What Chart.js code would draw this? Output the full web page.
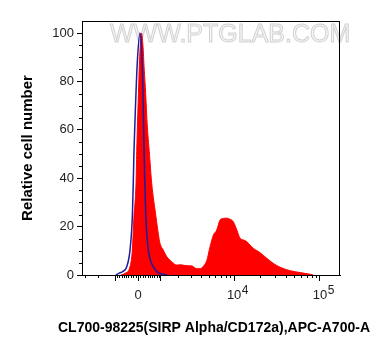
<!DOCTYPE html>
<html><head><meta charset="utf-8">
<style>html,body{margin:0;padding:0;background:#fff}#wrap{width:389px;height:356px;position:relative}</style>
<script src="https://cdn.jsdelivr.net/npm/chart.js@4.4.0/dist/chart.umd.min.js"></script>
</head><body><div id="wrap"><canvas id="c" width="389" height="356"></canvas></div>
<script>
// Histogram bins in display (biexponential, decade) units and relative counts
const sampleChannel = [-0.20,-0.151,-0.093,-0.066,-0.047,-0.023,-0.015,0.005,0.022,0.040,0.057,0.072,0.089,0.107,0.131,0.159,0.209,0.236,0.256,0.294,0.334,0.392,0.450,0.50,0.547,0.60,0.640,0.663,0.721,0.756,0.799,0.837,0.876,0.915,0.953,0.992,1.031,1.070,1.108,1.148,1.186,1.225,1.264,1.30,1.341,1.38,1.419,1.497,1.573,1.651,1.767,1.884,2.000,2.035];
const sampleCount   = [0,0.7,3.4,10.3,24,38,51,75,92,100,95,85,75,62,51,38,24,17,13,10.3,7.6,5.5,4.1,4.2,3.9,3.8,3.6,2.8,2.6,3.5,6,11.7,16.5,18.6,22.7,23.4,23.5,23,22,18.6,15.2,14.5,13.8,12.4,11,10.1,9.2,6.9,4.8,3.2,1.8,1.0,0.3,0];
const isotypeChannel = [-0.256,-0.229,-0.174,-0.131,-0.093,-0.066,-0.055,-0.047,-0.029,-0.008,0.023,0.041,0.055,0.070,0.079,0.091,0.120,0.145,0.178,0.233,0.294,0.337];
const isotypeCount   = [0,0.6,1.5,3.4,10.3,24,38,51,70,88,100,94,80,52,38,24,10.3,6,3.4,1,0.3,0];

const yTicks = [0,20,40,60,80,100];
const yMinorTicks = [5,10,15,25,30,35,45,50,55,65,70,75,85,90,95];
const xMajorValues = [-1000,0,1000,10000,100000];
const xMajorLabels = ['','0','','10','10'];
const xMajorExponents = ['','','','4','5'];
const xMinorValues = [-3000,-2000,-900,-800,-700,-600,-500,-400,-300,-200,-100,100,200,300,400,500,600,700,800,900,2000,3000,4000,5000,6000,7000,8000,9000,20000,30000,40000,50000,60000,70000,80000,90000];
const xRange = [-3270,171000];
const yRange = [0,105];
const xTitle = 'CL700-98225(SIRP Alpha/CD172a),APC-A700-A';
const yTitle = 'Relative cell number';
const W = 1538; // biexponential width parameter
const T = v => Math.asinh(v / W) / Math.LN10;

const FONT = "'Liberation Sans', Arial, sans-serif";
const TICK_FONT = "13px " + FONT;

const decor = {
  id: 'decor',
  beforeDatasetsDraw(chart) {
    const ctx = chart.ctx;
    ctx.save();
    ctx.font = "25px " + FONT;
    ctx.textBaseline = 'alphabetic';
    ctx.fillStyle = '#f7f7f7';
    ctx.strokeStyle = '#d2d2d2';
    ctx.lineWidth = 1;
    ctx.fillText('WWW.PTGLAB.COM', 110, 42);
    ctx.strokeText('WWW.PTGLAB.COM', 110, 42);
    ctx.restore();
  },
  afterDraw(chart) {
    const {ctx, chartArea: a, scales: {x, y}} = chart;
    ctx.save();
    ctx.strokeStyle = '#000';
    ctx.lineWidth = 1;
    ctx.strokeRect(Math.round(a.left) + 0.5, Math.round(a.top) + 0.5, Math.round(a.right - a.left) - 1, Math.round(a.bottom - a.top));
    ctx.beginPath();
    yMinorTicks.forEach(v => {
      const py = Math.round(y.getPixelForValue(v)) + 0.5;
      ctx.moveTo(a.left - 3, py); ctx.lineTo(a.left, py);
    });
    xMinorValues.forEach(v => {
      const px = Math.round(x.getPixelForValue(T(v))) + 0.5;
      ctx.moveTo(px, a.bottom); ctx.lineTo(px, a.bottom + 3);
    });
    ctx.stroke();
    // exponents of the power-of-ten tick labels
    ctx.fillStyle = '#222';
    ctx.textBaseline = 'alphabetic';
    ctx.textAlign = 'left';
    xMajorValues.forEach((v, i) => {
      const e = xMajorExponents[i];
      if (!e) return;
      ctx.font = TICK_FONT;
      const half = ctx.measureText(xMajorLabels[i]).width / 2;
      const px = x.getPixelForValue(T(v));
      ctx.font = "12px " + FONT;
      ctx.fillText(e, px + half + 0.5, a.bottom + 19);
    });
    // x-axis title (drawn without the axis-width squeeze)
    ctx.fillStyle = '#000';
    ctx.font = "bold 14px " + FONT;
    ctx.textAlign = 'center';
    ctx.textBaseline = 'middle';
    ctx.fillText(xTitle, (a.left + a.right) / 2 + 3, a.bottom + 53);
    ctx.restore();
  }
};

new Chart(document.getElementById('c'), {
  type: 'line',
  data: {
    datasets: [
      {
        label: 'CL700-98225',
        data: sampleChannel.map((c, i) => ({x: c, y: sampleCount[i]})),
        borderColor: '#ff0000',
        backgroundColor: '#ff0000',
        borderWidth: 1,
        fill: 'origin',
        pointRadius: 0,
        cubicInterpolationMode: 'monotone',
        order: 2
      },
      {
        label: 'Isotype',
        data: isotypeChannel.map((c, i) => ({x: c, y: isotypeCount[i]})),
        borderColor: '#1c1ca0',
        backgroundColor: 'rgba(0,0,0,0)',
        borderWidth: 1.5,
        fill: false,
        pointRadius: 0,
        cubicInterpolationMode: 'monotone',
        order: 1
      }
    ]
  },
  options: {
    responsive: false,
    devicePixelRatio: 1,
    animation: false,
    layout: {padding: {top: 21, right: 49, left: 0, bottom: 0}},
    plugins: {legend: {display: false}, tooltip: {enabled: false}},
    scales: {
      x: {
        type: 'linear',
        min: T(xRange[0]),
        max: T(xRange[1]),
        afterBuildTicks: s => { s.ticks = xMajorValues.map(v => ({value: T(v)})); },
        afterFit: s => { s.height = 81; },
        ticks: {
          autoSkip: false,
          maxRotation: 0,
          padding: 7,
          color: '#222',
          font: {family: FONT, size: 13},
          callback: (v, i) => xMajorLabels[i]
        },
        grid: {drawOnChartArea: false, drawTicks: true, tickLength: 6, color: '#000', tickColor: '#000'},
        border: {display: true, color: '#000', width: 1},
        title: {display: false}
      },
      y: {
        type: 'linear',
        min: yRange[0],
        max: yRange[1],
        afterBuildTicks: s => { s.ticks = yTicks.map(v => ({value: v})); },
        afterFit: s => { s.width = 82; },
        ticks: {
          padding: 3,
          color: '#222',
          font: {family: FONT, size: 13}
        },
        grid: {drawOnChartArea: false, drawTicks: true, tickLength: 5, color: '#000', tickColor: '#000'},
        border: {display: true, color: '#000', width: 1},
        title: {
          display: true,
          text: yTitle,
          color: '#000',
          font: {family: FONT, size: 15, weight: 'bold'},
          padding: {top: 19, bottom: 0}
        }
      }
    }
  },
  plugins: [decor]
});
</script></body></html>
